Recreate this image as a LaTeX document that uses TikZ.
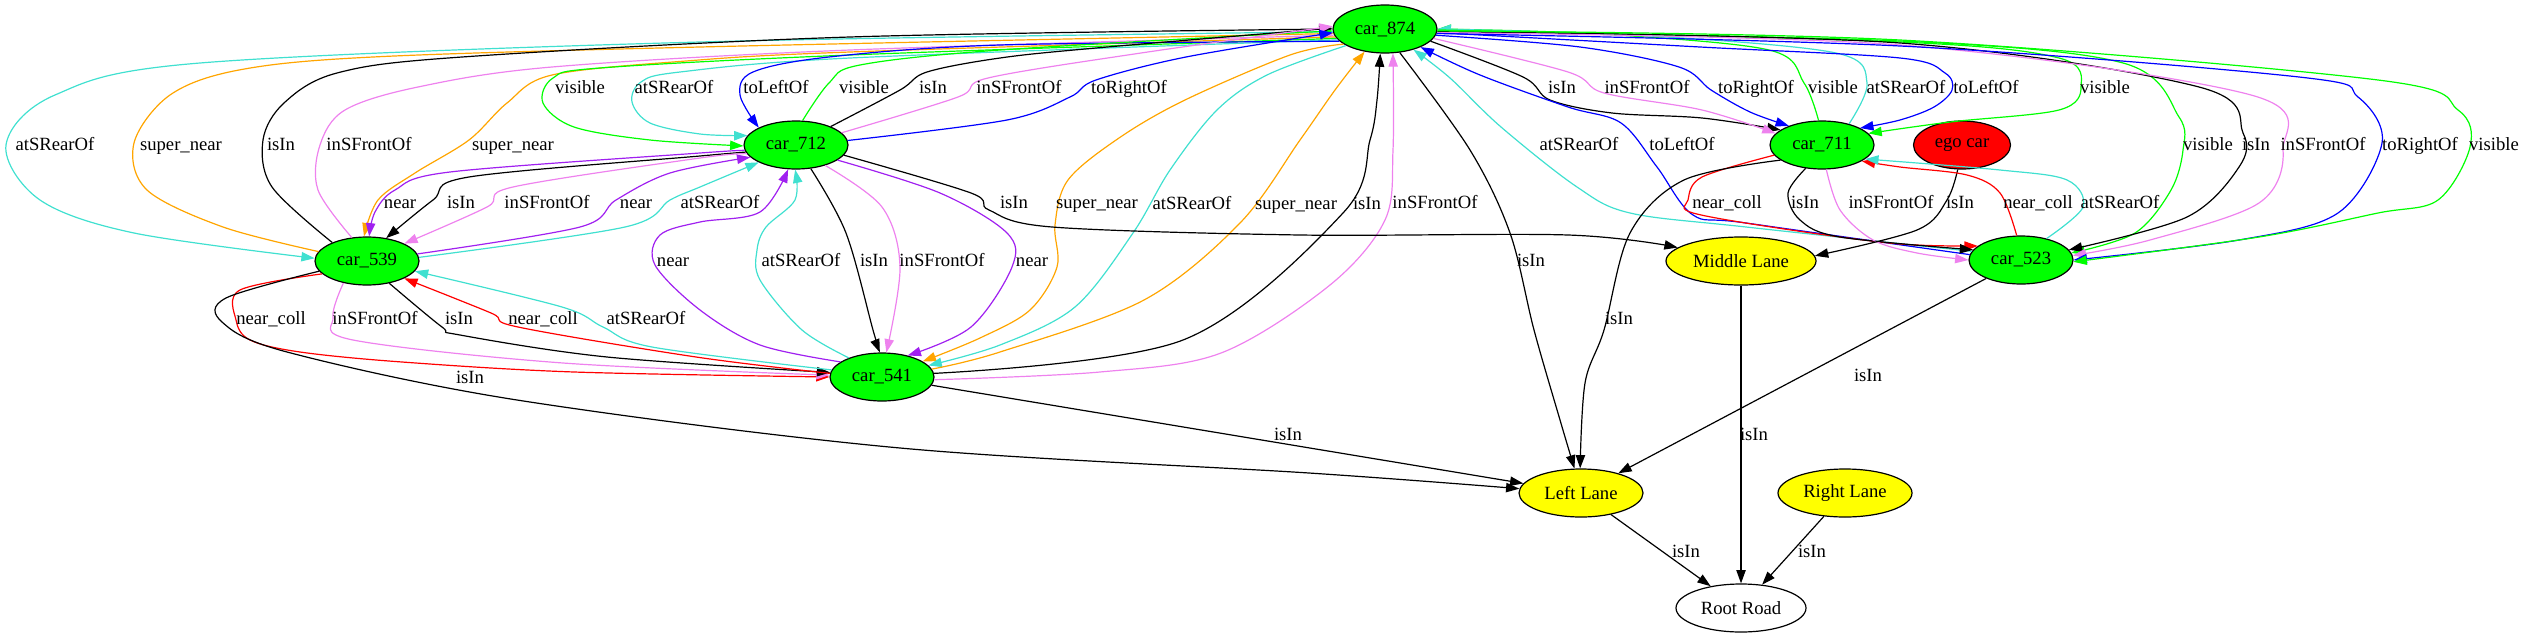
\documentclass[tikz,border=0pt]{standalone}
\usepackage{fontspec}
\setmainfont{Liberation Serif}
\usetikzlibrary{arrows.meta,shapes.geometric}
\definecolor{cgreen}{RGB}{0,255,0}
\definecolor{cturq}{RGB}{64,224,208}
\definecolor{cviolet}{RGB}{238,130,238}
\definecolor{corange}{RGB}{255,165,0}
\definecolor{cpurple}{RGB}{160,32,240}
\definecolor{cred}{RGB}{255,0,0}
\definecolor{cblue}{RGB}{0,0,255}
\definecolor{cyellow}{RGB}{255,255,0}
\newcommand\gvedge[5]{\draw[gv,#1] plot[smooth,tension=0.55] coordinates {#2}; \node[lbl] (#3) at #4 {#5};}
\tikzset{
  gv/.style={line width=0.9pt, -{Triangle[length=10pt,width=7pt]}},
  carn/.style={ellipse, draw, line width=0.9pt, fill=cgreen, minimum width=78pt, minimum height=36pt, inner sep=0pt, font=\fontsize{14}{16}\selectfont},
  lanen/.style={carn, fill=cyellow},
  lbl/.style={inner sep=0pt, text height=9pt, text depth=0pt, font=\fontsize{14}{16}\selectfont}
}
\begin{document}
\begin{tikzpicture}[x=0.75pt,y=-0.75pt]
\useasboundingbox (0,0) rectangle (2525,639);
% nodes
\node[carn] (n874) at (1385,29) {car\_874};
\node[carn] (n712) at (796,145) {car\_712};
\node[carn] (n539) at (367,261) {car\_539};
\node[carn] (n541) at (882,377) {car\_541};
\node[carn] (n711) at (1822,145) {car\_711};
\node[carn, fill=cred, minimum width=72.75pt] (nego) at (1962,145) {ego car};
\node[carn] (n523) at (2021,260) {car\_523};
\node[lanen, minimum width=112.5pt] (nmid) at (1741,261) {Middle Lane};
\node[lanen, minimum width=93pt] (nleft) at (1581,493) {Left Lane};
\node[lanen, minimum width=100.5pt] (nright) at (1845,493) {Right Lane};
\node[carn, fill=white, minimum width=97.5pt] (nroot) at (1741,608) {Root Road};
% edges car_874 <-> left side
\gvedge{cturq}{(n874.183) (700,42) (200,63) (55,95) (6,145) (40,200) (134,233) (n539.177)}{l1}{(55,144)}{atSRearOf}
\gvedge{corange}{(n539.169) (223,227) (147,190) (134,143) (170,95) (239,70) (373,57) (700,47) (n874.185)}{l2}{(181,144)}{super\_near}
\gvedge{black}{(n539.152) (272,187) (263,140) (284,103) (337,73) (462,57) (850,37) (n874.180)}{l3}{(281,144)}{isIn}
\gvedge{cviolet}{(n539.123) (318,190) (320,145) (345,110) (418,87) (552,67) (850,50) (n874.187)}{l4}{(369,144)}{inSFrontOf}
\gvedge{corange}{(n874.189) (850,52) (686,61) (552,75) (507,103) (469,140) (415,173) (378,200) (n539.97)}{l5}{(513,144)}{super\_near}
\gvedge{cgreen}{(n874.191) (850,55) (600,68) (553,78) (543,103) (574,127) (650,140) (n712.181)}{l6}{(580,87)}{visible}
\gvedge{cturq}{(n874.193) (850,58) (680,72) (641,82) (632,102) (650,123) (700,134) (n712.169)}{l7}{(674,87)}{atSRearOf}
\gvedge{cblue}{(n874.195) (1000,45) (829,57) (753,72) (740,95) (n712.155)}{l8}{(776,87)}{toLeftOf}
\gvedge{cgreen}{(n712.75) (829,83) (860,65) (1000,50) (n874.182)}{l9}{(864,87)}{visible}
\gvedge{black}{(n712.28) (900,90) (927,72) (1000,58) (1096,48) (n874.179)}{l10}{(933,87)}{isIn}
\gvedge{cviolet}{(n712.15) (958,97) (988,78) (1141,53) (n874.177)}{l11}{(1019,87)}{inSFrontOf}
\gvedge{cblue}{(n712.5) (1007,120) (1070,97) (1096,80) (1186,57) (n874.184)}{l12}{(1129,87)}{toRightOf}
\gvedge{corange}{(n874.200) (1290,55) (1185,100) (1119,138) (1068,180) (1055,225) (1057,267) (1030,310) (980,338) (n541.21)}{l13}{(1097,202)}{super\_near}
\gvedge{cturq}{(n874.203) (1267,75) (1217,110) (1170,170) (1133,233) (1075,307) (1000,345) (n541.14)}{l14}{(1192,203)}{atSRearOf}
\gvedge{corange}{(n541.9) (1000,352) (1144,300) (1240,223) (1300,140) (1335,90) (n874.228)}{l15}{(1296,203)}{super\_near}
\gvedge{black}{(n541.4) (1183,340) (1343,213) (1370,140) (1377,100) (n874.259)}{l16}{(1367,203)}{isIn}
\gvedge{cviolet}{(n541.-3) (1100,372) (1221,353) (1330,285) (1385,220) (1393,150) (n874.-72)}{l17}{(1435,202)}{inSFrontOf}
\gvedge{black}{(n874.-58) (1470,150) (1510,233) (1534,330) (1560,420) (nleft.105)}{l18}{(1531,260)}{isIn}
% car_874 <-> right side
\gvedge{black}{(n874.-15) (1523,77) (1550,100) (1612,113) (1702,118) (n711.160)}{l19}{(1562,87)}{isIn}
\gvedge{cviolet}{(n874.-11) (1568,72) (1604,93) (1702,110) (n711.166)}{l20}{(1647,87)}{inSFrontOf}
\gvedge{cblue}{(n874.-7) (1580,47) (1679,67) (1711,90) (1750,112) (n711.150)}{l21}{(1756,87)}{toRightOf}
\gvedge{cgreen}{(n711.98) (1804,83) (1769,50) (1600,34) (n874.0)}{l22}{(1833,87)}{visible}
\gvedge{cturq}{(n711.38) (1867,83) (1836,53) (1650,36) (n874.0)}{l23}{(1906,87)}{atSRearOf}
\gvedge{cblue}{(n874.-4) (1700,47) (1900,58) (1945,73) (1952,90) (1934,107) (1900,120) (n711.24)}{l24}{(1986,87)}{toLeftOf}
\gvedge{cgreen}{(n874.-1) (1900,42) (2059,58) (2081,87) (2059,110) (1950,122) (n711.14)}{l25}{(2105,87)}{visible}
\gvedge{cturq}{(n523.170) (1746,227) (1630,213) (1577,187) (1501,127) (1450,78) (n874.-36)}{l26}{(1579,144)}{atSRearOf}
\gvedge{cblue}{(n523.174) (1746,223) (1693,215) (1657,167) (1621,123) (1568,107) (1480,75) (n874.-27)}{l27}{(1682,144)}{toLeftOf}
\gvedge{cgreen}{(n874.-2) (1900,41) (2123,63) (2179,117) (2183,150) (2171,190) (2135,233) (n523.8)}{l28}{(2208,144)}{visible}
\gvedge{black}{(n874.-3) (1900,43) (2199,87) (2243,133) (2239,167) (2187,217) (n523.12)}{l29}{(2256,144)}{isIn}
\gvedge{cviolet}{(n874.-4) (1900,45) (2251,95) (2283,150) (2259,203) (2150,240) (n523.5)}{l30}{(2323,144)}{inSFrontOf}
\gvedge{cblue}{(n874.-5) (1900,46) (2299,77) (2358,97) (2382,143) (2338,213) (2239,240) (n523.0)}{l31}{(2420,144)}{toRightOf}
\gvedge{cgreen}{(n874.-2) (1900,40) (2378,80) (2458,110) (2470,147) (2438,200) (2378,213) (2259,237) (n523.-2)}{l32}{(2494,144)}{visible}
% car_712 <-> car_539
\gvedge{cpurple}{(n712.186) (700,153) (450,172) (395,190) (375,212) (n539.85)}{l33}{(400,202)}{near}
\gvedge{black}{(n712.188) (700,156) (469,177) (433,200) (n539.50)}{l34}{(461,202)}{isIn}
\gvedge{cviolet}{(n712.190) (700,158) (513,187) (487,207) (n539.25)}{l35}{(547,202)}{inSFrontOf}
\gvedge{cpurple}{(n539.8) (580,227) (616,200) (670,173) (n712.195)}{l36}{(636,202)}{near}
\gvedge{cturq}{(n539.4) (625,227) (670,200) (700,187) (n712.205)}{l37}{(720,202)}{atSRearOf}
\gvedge{black}{(n712.-12) (971,193) (989,210) (1052,227) (1300,235) (1568,235) (nmid.168)}{l38}{(1014,202)}{isIn}
% car_712 <-> car_541
\gvedge{cpurple}{(n541.160) (760,345) (700,310) (655,265) (660,235) (700,222) (760,212) (n712.-108)}{l39}{(673,260)}{near}
\gvedge{cturq}{(n541.150) (802,330) (760,280) (757,250) (766,227) (795,200) (n712.-92)}{l40}{(801,260)}{atSRearOf}
\gvedge{black}{(n712.-58) (846,233) (873,330) (n541.95)}{l41}{(874,260)}{isIn}
\gvedge{cviolet}{(n712.-35) (882,207) (900,267) (n541.80)}{l42}{(942,260)}{inSFrontOf}
\gvedge{cpurple}{(n712.-20) (940,193) (1007,233) (1012,267) (971,327) (n541.40)}{l43}{(1032,260)}{near}
% car_539 <-> car_541
\gvedge{cred}{(n539.196) (240,290) (236,320) (250,340) (300,352) (402,362) (574,372) (n541.180)}{l44}{(271,318)}{near\_coll}
\gvedge{cviolet}{(n539.223) (333,317) (353,340) (563,363) (n541.178)}{l45}{(375,318)}{inSFrontOf}
\gvedge{black}{(n539.-45) (442,327) (460,335) (607,357) (n541.175)}{l46}{(459,318)}{isIn}
\gvedge{cred}{(n541.176) (696,357) (518,327) (491,313) (n539.-25)}{l47}{(543,318)}{near\_coll}
\gvedge{cturq}{(n541.172) (652,347) (603,327) (562,307) (n539.-12)}{l48}{(646,318)}{atSRearOf}
\gvedge{black}{(n539.192) (226,298) (222,322) (287,352) (517,400) (900,448) (1309,473) (nleft.176)}{l49}{(470,377)}{isIn}
\draw[gv] (n541) -- (nleft); \node[lbl] (l50) at (1288,434) {isIn};
% car_711, car_523, ego
\gvedge{cred}{(n711.192) (1702,177) (1688,200) (1693,213) (1791,230) (1900,244) (n523.162)}{l51}{(1727,202)}{near\_coll}
\gvedge{black}{(n711.235) (1788,193) (1800,220) (1840,237) (n523.168)}{l52}{(1805,202)}{isIn}
\gvedge{cviolet}{(n711.-80) (1840,210) (1873,240) (1917,253) (n523.180)}{l53}{(1891,202)}{inSFrontOf}
\gvedge{black}{(nego.-100) (1947,200) (1917,230) (nmid.4)}{l54}{(1960,202)}{isIn}
\gvedge{cred}{(n523.100) (2000,193) (1967,175) (1900,167) (n711.-22)}{l55}{(2038,202)}{near\_coll}
\gvedge{cturq}{(n523.40) (2083,207) (2067,180) (2000,170) (n711.-18)}{l56}{(2120,202)}{atSRearOf}
\gvedge{black}{(n711.200) (1684,180) (1630,233) (1604,330) (1585,383) (nleft.92)}{l57}{(1619,318)}{isIn}
\draw[gv] (n523) -- (nleft); \node[lbl] (l58) at (1868,375) {isIn};
\draw[gv] (nmid) -- (nroot); \node[lbl] (l59) at (1754,434) {isIn};
\draw[gv] (nleft) -- (nroot); \node[lbl] (l60) at (1686,551) {isIn};
\draw[gv] (nright) -- (nroot); \node[lbl] (l61) at (1812,551) {isIn};
\end{tikzpicture}
\end{document}
